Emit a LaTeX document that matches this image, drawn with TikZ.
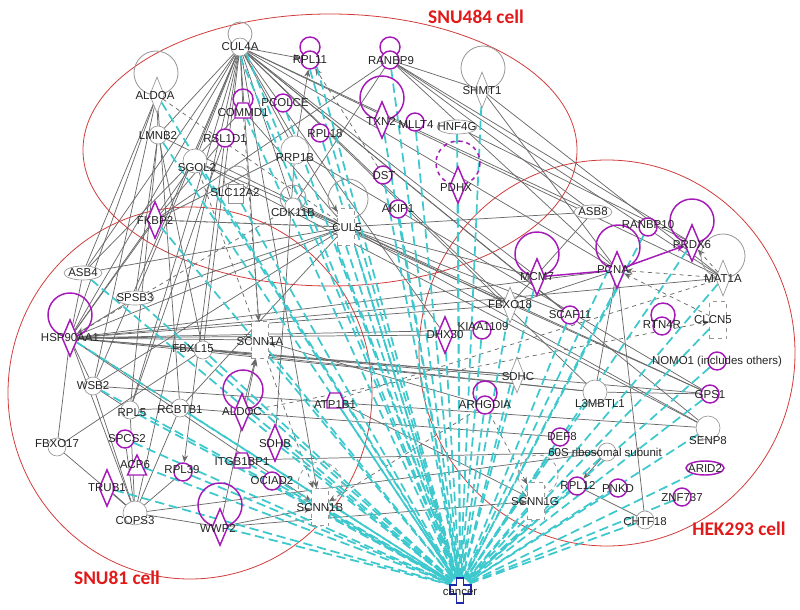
\documentclass[tikz,border=0pt]{standalone}
\usepackage{fontspec}
\setmainfont{Liberation Sans}
\newfontfamily\cellfont{Carlito}
\usetikzlibrary{shapes.geometric,arrows.meta,calc}
\pgfdeclarelayer{background}
\pgfsetlayers{background,main}
\definecolor{cMag}{RGB}{165,25,185}
\definecolor{cCy}{RGB}{60,200,205}
\definecolor{cLine}{RGB}{105,105,105}
\definecolor{cNode}{RGB}{150,150,150}
\definecolor{cEll}{RGB}{210,60,60}
\definecolor{cCell}{RGB}{225,25,25}
\definecolor{cBlue}{RGB}{30,40,170}
\definecolor{cTxt}{RGB}{35,35,35}
\tikzset{
 gc/.style={circle, draw=cNode, fill=white, line width=0.5pt, minimum size=13.5pt, inner sep=0pt},
 mc/.style={circle, draw=cMag, fill=white, line width=1.1pt, minimum size=13.5pt, inner sep=0pt},
 ge/.style={ellipse, draw=cNode, fill=white, line width=0.5pt, minimum width=28.5pt, minimum height=10.5pt, inner sep=0pt},
 me/.style={ellipse, draw=cMag, fill=white, line width=1.1pt, minimum width=28.5pt, minimum height=10.5pt, inner sep=0pt},
 gd/.style={diamond, draw=cNode, fill=white, line width=0.5pt, minimum width=11pt, minimum height=27pt, inner sep=0pt},
 md/.style={diamond, draw=cMag, fill=white, line width=1.1pt, minimum width=12pt, minimum height=27.75pt, inner sep=0pt},
 gr/.style={rectangle, draw=cNode, dashed, fill=white, line width=0.5pt, minimum width=12.75pt, minimum height=27.75pt, inner sep=0pt},
 hid/.style={circle, inner sep=0pt, minimum size=11pt},
 lab/.style={inner sep=0pt, text=cTxt, font=\fontsize{8.6}{10}\selectfont},
 gle/.style={draw=cLine, line width=0.55pt},
 arr/.style={-{Stealth[length=5.5pt,width=4.5pt]}},
 cyl/.style={draw=cCy, line width=1.3pt, dash pattern=on 7pt off 3.5pt},
 mgl/.style={draw=cMag, line width=1.1pt},
 mloop/.style={draw=cMag, line width=1.1pt},
 gloop/.style={draw=cNode, line width=0.6pt},
 cellname/.style={text=cCell, font=\cellfont\bfseries\fontsize{14.5}{16}\selectfont}
}
\begin{document}
\begin{tikzpicture}[x=0.75pt,y=-0.75pt]
\useasboundingbox (0,0) rectangle (800,610);
% ---------- nodes (shapes) ----------
\node[gc] (CUL4A) at (240,47) {};
\node[mc] (RPL11) at (310,60) {};
\node[mc] (RANBP9) at (390,60) {};
\node[gd] (ALDOA) at (157,95) {};
\node[gd] (SHMT1) at (482,90) {};
\node[mc] (PCOLCE) at (283,103) {};
\node[hid] (COMMD1) at (243,110) {};
\node[md] (TXN2) at (382,120) {};
\node[mc] (MLLT4) at (415,122) {};
\node[ge, minimum width=30pt] (HNF4G) at (457,127) {};
\node[gc] (LMNB2) at (158,135) {};
\node[mc] (RSL1D1) at (225,138) {};
\node[mc] (RPL18) at (320,133) {};
\node[gc, minimum size=21pt] (RRP1B) at (295,150) {};
\node[gc, minimum size=18pt] (SGOL2) at (195,161) {};
\node[mc] (DST) at (383,175) {};
\node[md] (PDHX) at (458,185) {};
\node[gr, solid, minimum width=11pt, minimum height=14pt] (SLC12A2) at (236,194) {};
\node[gc, minimum size=12pt] (CDK11B) at (293,206) {};
\node[gr] (CUL5) at (346,227) {};
\node[mc] (AKIP1) at (398,209) {};
\node[ge] (ASB8) at (593,212) {};
\node[mc] (RANBP10) at (648,227) {};
\node[md] (PRDX6) at (692,243) {};
\node[md] (MCM7) at (537,277) {};
\node[md] (PCNA) at (617,270) {};
\node[gd] (MAT1A) at (723,278) {};
\node[gd] (FBXO18) at (510,305) {};
\node[mc] (SCAF11) at (570,315) {};
\node[mc] (RTN4R) at (662,326) {};
\node[gr] (CLCN5) at (718,320) {};
\node[mc] (KIAA1109) at (482,330) {};
\node[md] (DHX30) at (445,335) {};
\node[mc] (NOMO1) at (717,361) {};
\node[gd] (SDHC) at (517,375) {};
\node[mc] (ARHGDIA) at (485,405) {};
\node[gc, minimum size=18pt] (L3MBTL1) at (595,392) {};
\node[mc] (GPS1) at (710,394) {};
\node[gc, minimum size=18pt] (SENP8) at (708,428) {};
\node[mc] (DEF8) at (560,437) {};
\node[gc] (RIBO) at (607,452) {};
\node[me] (ARID2) at (705,468) {};
\node[mc] (RPL12) at (577,486) {};
\node[mc] (PNKD) at (618,488) {};
\node[mc] (ZNF737) at (682,497) {};
\node[gc] (CHTF18) at (645,520) {};
\node[gr] (SCNN1G) at (536,501) {};
\node[hid, minimum size=14pt] (cancer) at (460,587) {};
\node[md] (FKBP2) at (155,220) {};
\node[ge] (ASB4) at (83,273) {};
\node[ge] (SPSB3) at (135,298) {};
\node[md] (HSP90AA1) at (70,338) {};
\node[gc] (FBXL15) at (203,350) {};
\node[gr] (SCNN1A) at (260,340) {};
\node[gc] (WSB2) at (93,386) {};
\node[gc] (RPL5) at (130,410) {};
\node[gc] (RCBTB1) at (180,408) {};
\node[md] (ALDOC) at (242,412) {};
\node[hid] (ATP1B1) at (335,400) {};
\node[md] (SDHB) at (275,443) {};
\node[hid] (ITGB1BP1) at (242,460) {};
\node[mc] (OCIAD2) at (272,481) {};
\node[gr] (SCNN1B) at (320,507) {};
\node[md] (WWP2) at (220,527) {};
\node[gc] (FBXO17) at (57,447) {};
\node[mc] (SPCS2) at (125,439) {};
\node[hid] (ACP6) at (137,465) {};
\node[mc] (RPL39) at (183,472) {};
\node[md] (TRUB1) at (107,488) {};
\node[gc, minimum size=18pt] (COPS3) at (135,513) {};
\coordinate (pdhxtop) at (458,142);
% custom shapes
\foreach \n in {COMMD1,ATP1B1,ITGB1BP1}
  \draw[mgl, fill=white] ([shift={(-8,8)}]\n.center) -- ([shift={(8,8)}]\n.center) -- ([shift={(8,0)}]\n.center) -- ([shift={(5,-7)}]\n.center) -- ([shift={(-5,-7)}]\n.center) -- ([shift={(-8,0)}]\n.center) -- cycle;
\draw[mgl, fill=white] ([shift={(-9.5,10)}]ACP6.center) -- ([shift={(9.5,10)}]ACP6.center) -- ([shift={(0,-10)}]ACP6.center) -- cycle;
\draw[cBlue, line width=1.4pt, fill=white] (456.5,578) -- (463.5,578) -- (463.5,585) -- (471,585) -- (471,594) -- (463.5,594) -- (463.5,603) -- (456.5,603) -- (456.5,594) -- (450,594) -- (450,585) -- (456.5,585) -- cycle;
% ---------- background: ellipses, edges, loops ----------
\begin{pgfonlayer}{background}
\fill[white] (0,0) rectangle (800,610);
\draw[cEll, line width=0.6pt] (330,150) ellipse (247 and 136);
\draw[cEll, line width=0.6pt] (190,393) ellipse (182 and 186);
\draw[cEll, line width=0.6pt] (607,353) ellipse (188 and 193);
% grey solid edges
\foreach \a/\b in {CUL4A/LMNB2,CUL4A/SGOL2,CUL4A/RSL1D1,CUL4A/COMMD1,CUL4A/RRP1B,CUL4A/ASB4,CUL4A/HSP90AA1,CUL4A/FBXL15,CUL4A/RPL5,CUL4A/SCNN1A,CUL4A/ASB8,CUL4A/PCNA,CUL4A/MCM7,CUL4A/FBXO18,CUL4A/SENP8,CUL4A/DHX30,CUL4A/SPSB3,CUL4A/L3MBTL1,CUL4A/CDK11B,CUL4A/WSB2,CUL4A/COPS3,CUL4A/MAT1A,CUL4A/SCAF11,
 ALDOA/HSP90AA1,ALDOA/WSB2,ALDOA/RCBTB1,ALDOA/LMNB2,ALDOA/ASB4,
 LMNB2/FBXL15,LMNB2/RPL5,LMNB2/CUL5,LMNB2/SPSB3,
 SGOL2/HSP90AA1,SGOL2/SENP8,SGOL2/CUL5,
 RSL1D1/FKBP2,RSL1D1/RPL5,COMMD1/CUL5,COMMD1/ASB4,
 RRP1B/FKBP2,RRP1B/GPS1,RRP1B/SDHB,
 RANBP9/SHMT1,RANBP9/ASB8,RANBP9/MAT1A,RANBP9/PRDX6,RANBP9/PCNA,RANBP9/CDK11B,RANBP9/FKBP2,
 SHMT1/PCNA,SHMT1/MAT1A,HNF4G/PRDX6,
 CUL5/ASB4,CUL5/SPSB3,CUL5/HSP90AA1,CUL5/WSB2,CUL5/ASB8,CUL5/FBXO18,CUL5/CDK11B,CUL5/SENP8,CUL5/RCBTB1,CUL5/GPS1,CUL5/FKBP2,CUL5/SCAF11,CUL5/MCM7,
 HSP90AA1/FKBP2,HSP90AA1/ASB4,HSP90AA1/WSB2,HSP90AA1/COPS3,HSP90AA1/FBXO18,HSP90AA1/DHX30,HSP90AA1/SCNN1A,HSP90AA1/PCNA,HSP90AA1/SDHC,HSP90AA1/L3MBTL1,HSP90AA1/RCBTB1,HSP90AA1/MAT1A,HSP90AA1/KIAA1109,HSP90AA1/GPS1,HSP90AA1/FBXO17,
 FBXO17/COPS3,FBXO17/FBXL15,WSB2/COPS3,WSB2/SENP8,WSB2/RPL5,RPL5/RCBTB1,RPL5/COPS3,RCBTB1/COPS3,RCBTB1/DEF8,
 COPS3/TRUB1,COPS3/RPL39,COPS3/WWP2,COPS3/RIBO,COPS3/SPCS2,ITGB1BP1/RIBO,FBXL15/L3MBTL1,FBXL15/SDHC,
 PCNA/CHTF18,PCNA/FBXO18,PCNA/L3MBTL1,L3MBTL1/GPS1,RPL12/CHTF18,ASB8/FBXO18,CDK11B/GPS1}
  \draw[gle] (\a) -- (\b);
% grey arrows
\foreach \a/\b in {CUL4A/RPL11,CUL4A/CUL5,RRP1B/RPL11,SPSB3/HSP90AA1,RSL1D1/RPL39,ALDOC/SCNN1A,WWP2/SCNN1A,ARHGDIA/SCNN1A,CUL4A/SCNN1B,WWP2/SCNN1B,WWP2/SCNN1G,RIBO/RPL12,ATP1B1/SCNN1G,HSP90AA1/SCNN1B}
  \draw[gle,arr,cLine] (\a) -- (\b);
% grey dashed arrows
\foreach \a/\b in {DST/RPL11,COMMD1/SCNN1A,SGOL2/SCNN1B,ARHGDIA/SCNN1G,ARHGDIA/SCNN1B,MAT1A/PRDX6,MAT1A/PCNA,CLCN5/PCNA,ALDOC/CLCN5}
  \draw[gle,arr,cLine,dashed] (\a) -- (\b);
% grey dashed plain
\foreach \a/\b in {ALDOA/CUL5,ATP1B1/MAT1A,HSP90AA1/CDK11B,FKBP2/CUL5}
  \draw[gle,dashed] (\a) -- (\b);
\draw[gle,-{Bar[width=8pt]}] (HNF4G) -- (pdhxtop);
% magenta edges
\draw[mgl] (MCM7) -- (PCNA);
\draw[mgl,-{Stealth[length=6pt,width=5pt]},cMag] (PCNA) -- (PRDX6);
% cyan edges to cancer
\foreach \n in {CUL4A.south,CUL4A.south east,RPL11.south,RPL11.south east,RANBP9,ALDOA,SHMT1,PCOLCE,COMMD1,TXN2,MLLT4,HNF4G,LMNB2,RPL18,SGOL2,DST,PDHX,SLC12A2,CUL5.south west,CUL5.south,CUL5.south east,AKIP1,RANBP10,PRDX6,MCM7,PCNA.south,PCNA.west,MAT1A,FBXO18,SCAF11,CLCN5,KIAA1109,DHX30,NOMO1,SDHC,ARHGDIA,L3MBTL1,GPS1,SENP8,DEF8,RIBO,ARID2,RPL12,PNKD,ZNF737,CHTF18,SCNN1G,FKBP2,ASB4,SPSB3,HSP90AA1,FBXL15,SCNN1A,WSB2,RPL5,RCBTB1,ALDOC,ATP1B1,SDHB,ITGB1BP1,OCIAD2,SCNN1B,WWP2,SPCS2,ACP6,RPL39,TRUB1}
  \draw[cyl] (\n) -- (cancer);
% loops
\draw[gloop] (240,34) circle (12);
\draw[mloop] (310,47) circle (10);
\draw[mloop] (390,47) circle (10);
\draw[gloop] (156,73) circle (22);
\draw[gloop] (483,68) circle (22);
\draw[mloop] (243,99) circle (10);
\draw[mloop] (382,98) circle (22);
\draw[mloop,dashed] (458,163) circle (22);
\draw[gloop] (237,179) circle (13);
\draw[gloop] (293,198) circle (13);
\draw[gloop] (348,199) circle (20);
\draw[mloop] (537,254) circle (22);
\draw[mloop] (618,247) circle (22);
\draw[mloop] (692,221) circle (22);
\draw[gloop] (723,256) circle (22);
\draw[mloop] (663,315) circle (12);
\draw[mloop] (485,393) circle (12);
\draw[gloop,dashed] (538,475) circle (20);
\draw[mloop] (70,315) circle (22);
\draw[mloop] (243,390) circle (20);
\draw[gloop,dashed] (320,484) circle (22);
\draw[mloop] (220,505) circle (22);
\end{pgfonlayer}
% ---------- labels ----------
\foreach \n/\x/\y/\t in {CUL4A/240/47/CUL4A,RPL11/310/60/RPL11,RANBP9/391/61/RANBP9,ALDOA/155/96/ALDOA,SHMT1/482/91/SHMT1,PCOLCE/285/103/PCOLCE,COMMD1/243/113/COMMD1,TXN2/381/121/TXN2,MLLT4/416/125/MLLT4,HNF4G/457/127/HNF4G,LMNB2/158/135/LMNB2,RSL1D1/225/139/RSL1D1,RPL18/325/134/RPL18,RRP1B/295/158/RRP1B,SGOL2/197/168/SGOL2,DST/384/176/DST,PDHX/456/188/PDHX,SLC12A2/235/193/SLC12A2,CDK11B/293/213/CDK11B,CUL5/347/228/CUL5,AKIP1/398/209/AKIP1,ASB8/593/212/ASB8,RANBP10/648/225/RANBP10,PRDX6/692/245/PRDX6,MCM7/537/277/MCM7,PCNA/613/270/PCNA,MAT1A/723/279/MAT1A,FBXO18/510/305/FBXO18,SCAF11/570/315/SCAF11,RTN4R/662/325/RTN4R,CLCN5/713/320/CLCN5,KIAA1109/483/327/KIAA1109,DHX30/445/335/DHX30,NOMO1/717/362/NOMO1 (includes others),SDHC/518/377/SDHC,ARHGDIA/485/405/ARHGDIA,L3MBTL1/600/404/L3MBTL1,GPS1/710/395/GPS1,SENP8/708/441/SENP8,DEF8/562/437/DEF8,RIBO/605/452/60S ribosomal subunit,ARID2/705/468/ARID2,RPL12/578/485/RPL12,PNKD/618/489/PNKD,ZNF737/682/498/ZNF737,CHTF18/645/522/CHTF18,SCNN1G/535/502/SCNN1G,cancer/460/592/cancer,FKBP2/155/220/FKBP2,ASB4/83/273/ASB4,SPSB3/135/298/SPSB3,HSP90AA1/70/338/HSP90AA1,FBXL15/193/349/FBXL15,SCNN1A/260/342/SCNN1A,WSB2/93/386/WSB2,RPL5/132/413/RPL5,RCBTB1/180/410/RCBTB1,ALDOC/242/412/ALDOC,ATP1B1/335/405/ATP1B1,SDHB/275/444/SDHB,ITGB1BP1/242/462/ITGB1BP1,OCIAD2/272/481/OCIAD2,SCNN1B/320/508/SCNN1B,WWP2/218/528/WWP2,FBXO17/57/444/FBXO17,SPCS2/127/439/SPCS2,ACP6/135/465/ACP6,RPL39/182/470/RPL39,TRUB1/107/488/TRUB1,COPS3/135/521/COPS3}
  \node[lab] (t\n) at (\x,\y) {\t};
\node[cellname] (gSNU484) at (476,17) {SNU484 cell};
\node[cellname] (gSNU81) at (117,578) {SNU81 cell};
\node[cellname] (gHEK) at (739,529) {HEK293 cell};
\end{tikzpicture}
\end{document}
